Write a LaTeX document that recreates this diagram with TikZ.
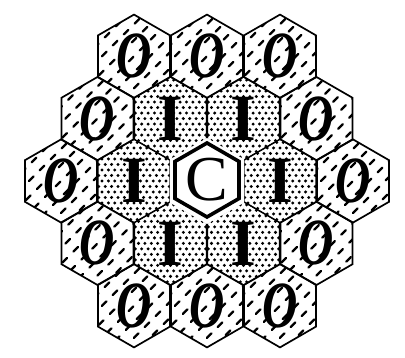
\documentclass[tikz,border=0pt]{standalone}
\usepackage{fontspec}
\setmainfont{Liberation Serif}
\usetikzlibrary{shapes.geometric}
\begin{document}
\begin{tikzpicture}[x=1pt,y=1pt,
  hexcell/.style={regular polygon, regular polygon sides=6, shape border rotate=30,
    minimum size=83.2pt, inner sep=0pt, outer sep=0pt, line width=1.7pt,
    font=\fontsize{66}{66}\selectfont\bfseries},
  hatchline/.style={line width=2.3pt, dash pattern=on 6.5pt off 9pt, line cap=round},
  outercell/.style={hexcell, draw=black,
    path picture={\foreach \k in {-8,...,8}{
      \draw[hatchline] ([shift={({\k*8-60},{-\k*8-60})}]path picture bounding box.center) -- ++(120,120);}}},
  dotfill/.style={path picture={\foreach \j in {-9,...,9}{\foreach \i in {-8,...,8}{
      \pgfmathsetmacro{\off}{mod(abs(\j),2)*3.2}
      \fill ([shift={({\i*6.4+\off},{\j*5.5})}]path picture bounding box.center) circle (1.65);}}}},
  innercell/.style={hexcell, draw=black, line width=1.2pt, dotfill},
  centercell/.style={hexcell, minimum size=86pt, fill=white, dotfill},
  corecell/.style={regular polygon, regular polygon sides=6, shape border rotate=30,
    minimum size=74pt, inner sep=0pt, outer sep=0pt, line width=3.6pt, draw=black, fill=white,
    font=\fontsize{64}{64}\selectfont},
]
\useasboundingbox (0,0) rectangle (405,358);
\newcommand{\oletter}{\scalebox{0.74}[1]{\itshape O}}
% inner ring
\node[innercell] (i1) at (170.5,239.4) {I};
\node[innercell] (i2) at (243.5,239.4) {I};
\node[innercell] (i3) at (134,177) {I};
\node[innercell] (i4) at (280,177) {I};
\node[innercell] (i5) at (170.5,114.6) {I};
\node[innercell] (i6) at (243.5,114.6) {I};
% centre cell background (covers inner edges of the ring)
\node[centercell] (cbg) at (207,177) {};
% outer ring
\node[outercell] (o1) at (134,301.8) {\oletter};
\node[outercell] (o2) at (207,301.8) {\oletter};
\node[outercell] (o3) at (280,301.8) {\oletter};
\node[outercell] (o4) at (97.5,239.4) {\oletter};
\node[outercell] (o5) at (316.5,239.4) {\oletter};
\node[outercell] (o6) at (61,177) {\oletter};
\node[outercell] (o7) at (353,177) {\oletter};
\node[outercell] (o8) at (97.5,114.6) {\oletter};
\node[outercell] (o9) at (316.5,114.6) {\oletter};
\node[outercell] (o10) at (134,52.2) {\oletter};
\node[outercell] (o11) at (207,52.2) {\oletter};
\node[outercell] (o12) at (280,52.2) {\oletter};
% core
\node[corecell] (c) at (207,178) {C};
\end{tikzpicture}
\end{document}
